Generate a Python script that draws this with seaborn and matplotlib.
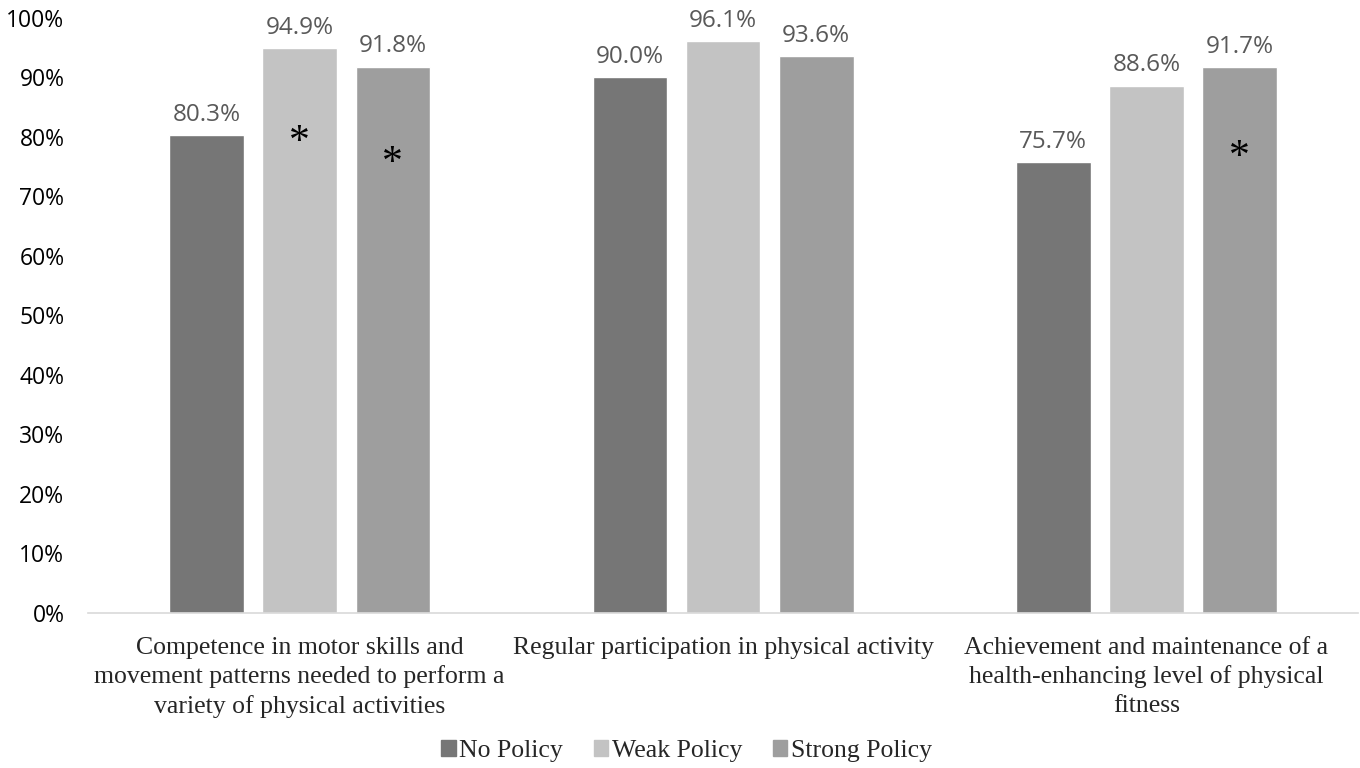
import matplotlib
matplotlib.use("Agg")
import matplotlib.pyplot as plt
import seaborn as sns
import pandas as pd

categories = [
    "Competence in motor skills and\nmovement patterns needed to perform a\nvariety of physical activities",
    "Regular participation in physical activity",
    "Achievement and maintenance of a\nhealth-enhancing level of physical\nfitness",
]
policies = ["No Policy", "Weak Policy", "Strong Policy"]
no_policy = [80.3, 90.0, 75.7]
weak_policy = [94.9, 96.1, 88.6]
strong_policy = [91.8, 93.6, 91.7]
# significance markers: (category index, policy, marker height in %)
stars = [(0, "Weak Policy", 79.0), (0, "Strong Policy", 75.5), (2, "Strong Policy", 76.5)]

colors = {"No Policy": "#767676", "Weak Policy": "#c3c3c3", "Strong Policy": "#9e9e9e"}

rows = []
for series, vals in zip(policies, [no_policy, weak_policy, strong_policy]):
    for cat, v in zip(categories, vals):
        rows.append({"category": cat, "policy": series, "value": v})
df = pd.DataFrame(rows)

sns.set_theme(style="white")
plt.rcParams["font.family"] = ["Open Sans", "DejaVu Sans"]

fig = plt.figure(figsize=(13.6, 7.68), dpi=100)
ax = fig.add_axes([0.0647, 0.2018, 0.934, 0.775])

sns.barplot(data=df, x="category", y="value", hue="policy", order=categories,
            hue_order=policies, palette=colors, width=0.66, gap=0.2,
            saturation=1, errorbar=None, ax=ax, legend=True)

ax.set_ylim(0, 100)
ax.set_yticks(range(0, 101, 10))
ax.set_yticklabels([f"{t}%" for t in range(0, 101, 10)], fontsize=16.5, color="#000000")
ax.set_xlim(-0.5, 2.5)
ax.set_xlabel("")
ax.set_ylabel("")
ax.tick_params(axis="x", length=0, pad=17)
ax.tick_params(axis="y", length=0, pad=17)
for lbl in ax.get_xticklabels():
    lbl.set_family(["Liberation Serif"])
    lbl.set_fontsize(18.5)
    lbl.set_linespacing(1.38)
    lbl.set_verticalalignment("top")

for s in ["top", "right", "left"]:
    ax.spines[s].set_visible(False)
ax.spines["bottom"].set_color("#d9d9d9")
ax.spines["bottom"].set_linewidth(1.2)

for container in ax.containers:
    ax.bar_label(container, labels=[f"{v:.1f}%" for v in container.datavalues],
                 padding=6, fontsize=17.5, color="#595959")

for ci, pol, h in stars:
    container = ax.containers[policies.index(pol)]
    bar = container.patches[ci]
    ax.text(bar.get_x() + bar.get_width() / 2, h, "*", ha="center", va="center",
            fontsize=30, family=["Liberation Serif"], color="#000000")

ax.legend_.remove()
handles = [plt.Rectangle((0, 0), 1, 1, color=colors[p]) for p in policies]
fig.legend(handles, policies, loc="center", bbox_to_anchor=(0.505, 0.022), ncol=3,
           frameon=False, prop={"family": "Liberation Serif", "size": 18.5},
           handlelength=0.55, handleheight=0.55, handletextpad=0.15, columnspacing=1.2)

fig.savefig("out.png", dpi=100)
